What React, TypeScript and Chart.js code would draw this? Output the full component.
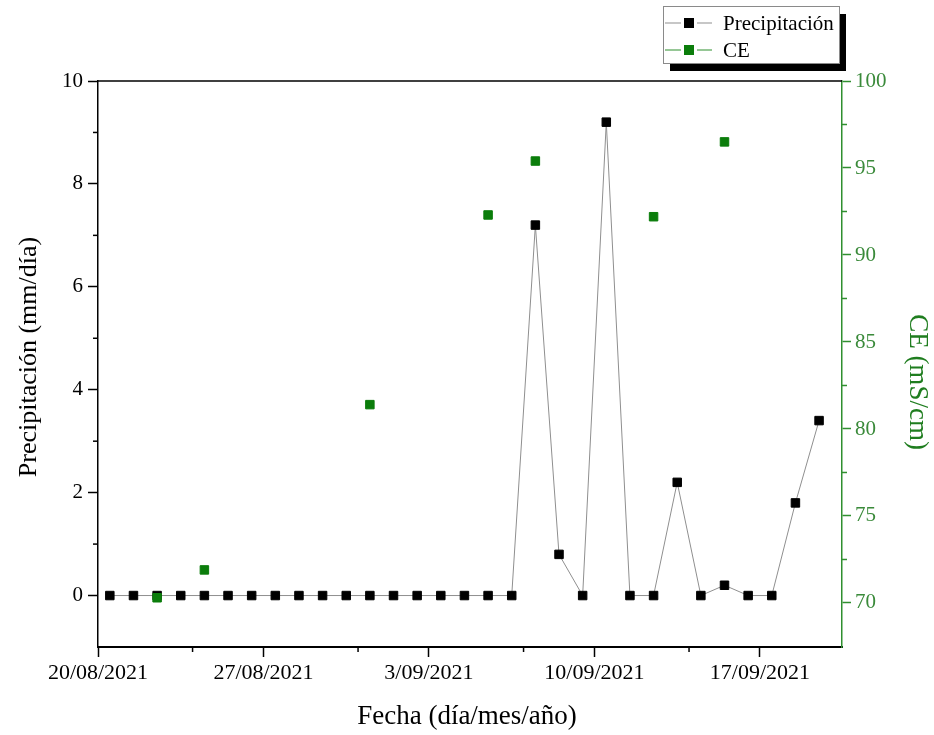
import React, { useEffect, useRef } from "react";
import { Chart, registerables } from "chart.js";

Chart.register(...registerables);

// ---- Data ----
const precipDates = [
  "20/08/2021", "21/08/2021", "22/08/2021", "23/08/2021", "24/08/2021", "25/08/2021",
  "26/08/2021", "27/08/2021", "28/08/2021", "29/08/2021", "30/08/2021", "31/08/2021",
  "01/09/2021", "02/09/2021", "03/09/2021", "04/09/2021", "05/09/2021", "06/09/2021",
  "07/09/2021", "08/09/2021", "09/09/2021", "10/09/2021", "11/09/2021", "12/09/2021",
  "13/09/2021", "14/09/2021", "15/09/2021", "16/09/2021", "17/09/2021", "18/09/2021",
  "19/09/2021",
];
const precipValues = [
  0, 0, 0, 0, 0, 0, 0, 0, 0, 0, 0, 0, 0, 0, 0, 0, 0, 0,
  7.2, 0.8, 0, 9.2, 0, 0, 2.2, 0, 0.2, 0, 0, 1.8, 3.4,
];
const ceDates = ["22/08/2021", "24/08/2021", "31/08/2021", "05/09/2021", "07/09/2021", "12/09/2021", "15/09/2021"];
const ceValues = [70.3, 71.9, 81.4, 92.3, 95.4, 92.2, 96.5];

const xTickLabels = ["20/08/2021", "27/08/2021", "3/09/2021", "10/09/2021", "17/09/2021"];

const FONT = '"Liberation Serif", "Times New Roman", serif';
const GREEN_AXIS = "#2f8f2f";
const GREEN_LABEL = "#3a8a3a";
const GREEN_TITLE = "#1f7d1f";
const GREEN_POINT = "#0b7d0b";
const LINE_GRAY = "#8f8f8f";

const origin = Date.UTC(2021, 7, 20);
function dayOffset(s: string): number {
  const [d, m, y] = s.split("/").map(Number);
  return (Date.UTC(y, m - 1, d) - origin) / 86400000 + 0.5;
}

const extrasPlugin = {
  id: "extras",
  afterDraw(chart: any) {
    const ctx = chart.ctx;
    const { left, right, top, bottom } = chart.chartArea;
    const x = chart.scales.x;
    const y = chart.scales.y;
    const y1 = chart.scales.y1;
    ctx.save();
    // top frame line
    ctx.strokeStyle = "#000";
    ctx.lineWidth = 1.5;
    ctx.beginPath();
    ctx.moveTo(left, top);
    ctx.lineTo(right, top);
    ctx.stroke();
    // minor ticks
    ctx.lineWidth = 1.5;
    ctx.strokeStyle = "#000";
    [4, 11, 18, 25].forEach((v) => {
      const px = x.getPixelForValue(v);
      ctx.beginPath();
      ctx.moveTo(px, bottom);
      ctx.lineTo(px, bottom + 5);
      ctx.stroke();
    });
    [1, 3, 5, 7, 9].forEach((v) => {
      const py = y.getPixelForValue(v);
      ctx.beginPath();
      ctx.moveTo(left, py);
      ctx.lineTo(left - 5, py);
      ctx.stroke();
    });
    ctx.strokeStyle = GREEN_AXIS;
    [72.5, 77.5, 82.5, 87.5, 92.5, 97.5].forEach((v) => {
      const py = y1.getPixelForValue(v);
      ctx.beginPath();
      ctx.moveTo(right, py);
      ctx.lineTo(right + 5, py);
      ctx.stroke();
    });

    // axis titles
    ctx.textAlign = "center";
    ctx.textBaseline = "middle";
    ctx.fillStyle = "#000";
    ctx.font = `27px ${FONT}`;
    ctx.fillText("Fecha (día/mes/año)", 467, 717);
    ctx.save();
    ctx.font = `26px ${FONT}`;
    ctx.translate(29, 357);
    ctx.rotate(-Math.PI / 2);
    ctx.fillText("Precipitación (mm/día)", 0, 0);
    ctx.restore();
    ctx.save();
    ctx.font = `27px ${FONT}`;
    ctx.fillStyle = GREEN_TITLE;
    ctx.translate(917, 382);
    ctx.rotate(Math.PI / 2);
    ctx.fillText("CE (mS/cm)", 0, 0);
    ctx.restore();

    // legend box
    const bx = 663, by = 6, bw = 176, bh = 57;
    ctx.fillStyle = "#000";
    ctx.fillRect(bx + 7, by + 8, bw, bh);
    ctx.fillStyle = "#fff";
    ctx.fillRect(bx, by, bw, bh);
    ctx.strokeStyle = "#8a8a8a";
    ctx.lineWidth = 1;
    ctx.strokeRect(bx + 0.5, by + 0.5, bw, bh);
    const rows = [
      { yy: 23, line: LINE_GRAY, fill: "#000", text: "Precipitación" },
      { yy: 50, line: GREEN_AXIS, fill: GREEN_POINT, text: "CE" },
    ];
    rows.forEach((r) => {
      ctx.strokeStyle = r.line;
      ctx.lineWidth = 1.2;
      ctx.beginPath();
      ctx.moveTo(665, r.yy);
      ctx.lineTo(681, r.yy);
      ctx.moveTo(697, r.yy);
      ctx.lineTo(712, r.yy);
      ctx.stroke();
      ctx.fillStyle = r.fill;
      ctx.fillRect(684, r.yy - 5, 10, 10);
      ctx.fillStyle = "#000";
      ctx.font = `21px ${FONT}`;
      ctx.textAlign = "left";
      ctx.fillText(r.text, 723, r.yy + 1);
    });
    ctx.restore();
  },
};

export default function App() {
  const ref = useRef<HTMLCanvasElement>(null);
  useEffect(() => {
    if (!ref.current) return;
    const chart = new Chart(ref.current, {
      type: "line",
      data: {
        datasets: [
          {
            label: "CE",
            data: ceDates.map((d, i) => ({ x: dayOffset(d), y: ceValues[i] })),
            yAxisID: "y1",
            showLine: false,
            pointStyle: "rect",
            pointRadius: 6,
            pointBorderWidth: 1,
            pointBackgroundColor: GREEN_POINT,
            pointBorderColor: GREEN_POINT,
            order: 0,
          },
          {
            label: "Precipitación",
            data: precipDates.map((d, i) => ({ x: dayOffset(d), y: precipValues[i] })),
            yAxisID: "y",
            borderColor: LINE_GRAY,
            borderWidth: 1,
            pointStyle: "rect",
            pointRadius: 6,
            pointBorderWidth: 1,
            pointBackgroundColor: "#000",
            pointBorderColor: "#000",
            order: 1,
          },
        ],
      },
      options: {
        responsive: false,
        animation: false,
        layout: { padding: { top: 81, left: 0, right: 0, bottom: 0 } },
        plugins: { legend: { display: false }, tooltip: { enabled: false } },
        scales: {
          x: {
            type: "linear",
            position: "bottom",
            min: 0,
            max: 31.47,
            afterFit: (s: any) => { s.height = 88; },
            ticks: {
              stepSize: 7,
              includeBounds: false,
              autoSkip: false,
              maxRotation: 0,
              color: "#000",
              font: { family: FONT, size: 22 },
              padding: 3,
              callback: (v: any) => xTickLabels[Math.round(Number(v) / 7)] ?? "",
            },
            grid: { display: true, drawOnChartArea: false, tickLength: 10, tickColor: "#000", tickWidth: 1.5 },
            border: { display: true, color: "#000", width: 2 },
          },
          y: {
            type: "linear",
            position: "left",
            min: -1,
            max: 10,
            afterFit: (s: any) => { s.width = 98; },
            ticks: {
              stepSize: 2,
              includeBounds: false,
              color: "#000",
              font: { family: FONT, size: 21 },
              padding: 5,
            },
            grid: { display: true, drawOnChartArea: false, tickLength: 10, tickColor: "#000", tickWidth: 1.5 },
            border: { display: true, color: "#000", width: 1.5 },
          },
          y1: {
            type: "linear",
            position: "right",
            min: 67.47,
            max: 100,
            afterFit: (s: any) => { s.width = 92; },
            ticks: {
              stepSize: 5,
              includeBounds: false,
              color: GREEN_LABEL,
              font: { family: FONT, size: 21 },
              padding: 4,
            },
            grid: { display: true, drawOnChartArea: false, tickLength: 9, tickColor: GREEN_AXIS, tickWidth: 1.5 },
            border: { display: true, color: GREEN_AXIS, width: 1.5 },
          },
        },
      },
      plugins: [extrasPlugin],
    } as any);
    return () => chart.destroy();
  }, []);
  return (
    <div style={{ position: "absolute", left: 0, top: 0, width: 934, height: 735, background: "#fff" }}>
      <canvas ref={ref} width={934} height={735} style={{ display: "block" }} />
    </div>
  );
}
